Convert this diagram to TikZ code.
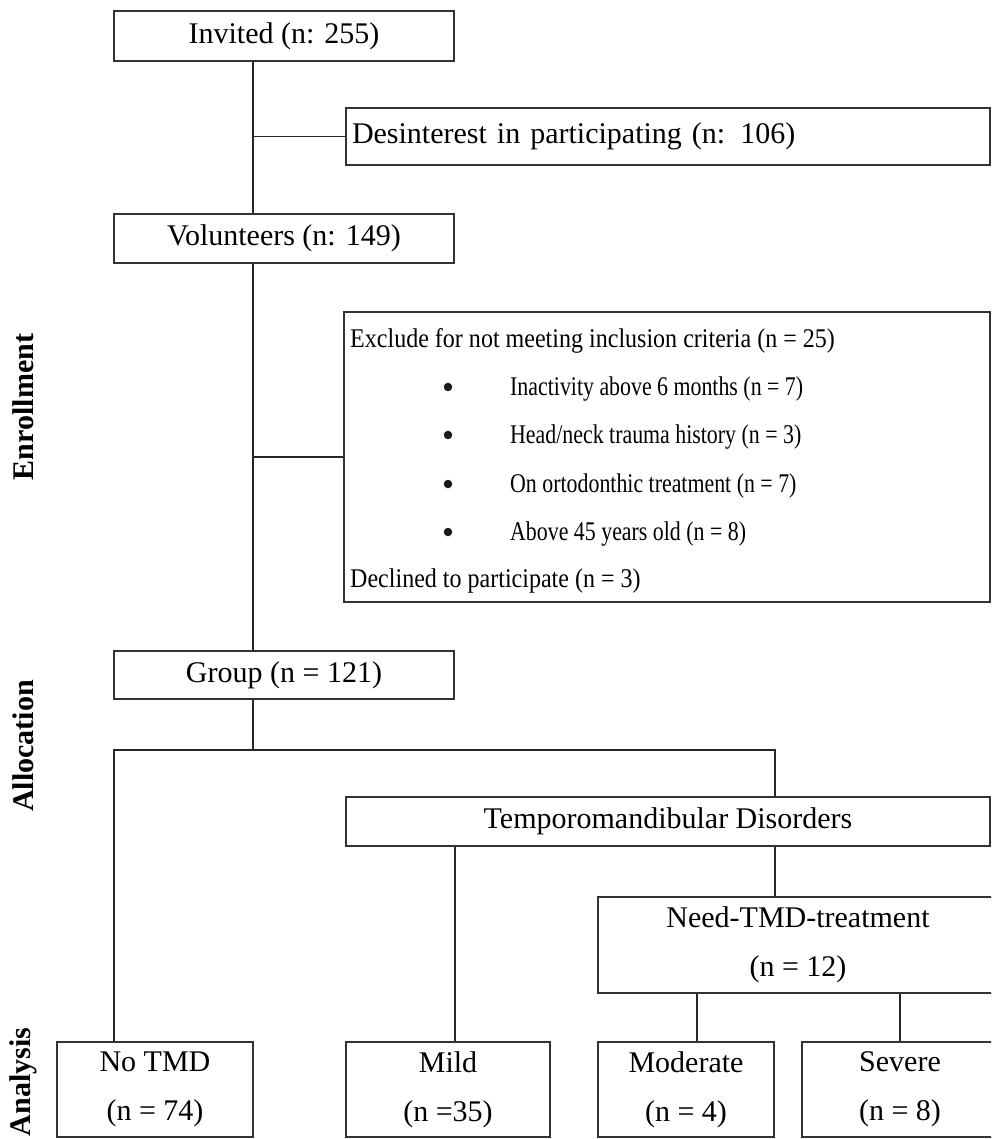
\documentclass[tikz,border=0pt]{standalone}
\usepackage{fontspec}
\setmainfont{Liberation Serif}
\newfontfamily\condA[FakeStretch=0.89]{Liberation Serif}
\newfontfamily\condB[FakeStretch=0.81]{Liberation Serif}
\begin{document}
\begin{tikzpicture}[x=1pt,y=-1pt,
  box/.style={draw=black!80, line width=1.5pt, rectangle, inner sep=0pt, anchor=center,
    font=\fontsize{30}{49}\selectfont, align=center},
  conn/.style={draw=black!85, line width=1.4pt},
  side/.style={rotate=90, font=\fontsize{30}{36}\selectfont\bfseries},
  extxt/.style={anchor=base west, inner sep=0pt, font=\fontsize{27}{32}\selectfont\condA},
  bultxt/.style={anchor=base west, inner sep=0pt, font=\fontsize{27}{32}\selectfont\condB},
  bul/.style={circle, fill=black!90, inner sep=0pt, minimum size=8.5pt}]
\useasboundingbox (0,0) rectangle (991,1139);
\clip (0,0) rectangle (991,1139);
\fill[white] (0,0) rectangle (991,1139);

% coordinates for connector columns
\coordinate (trunk) at (253,750);
\coordinate (lft) at (114,750);
\coordinate (rgt) at (775,750);
\coordinate (mildx) at (455,0);
\coordinate (modx) at (697,0);

% boxes
\node[box, minimum width=340pt, minimum height=50pt] (inv) at (284,36) {Invited (n: 255)};
\node[box, minimum width=644pt, minimum height=57pt, text width=632pt, align=left] (des) at (668,136.5) {Desinterest in participating (n: 106)};
\node[box, minimum width=340pt, minimum height=49pt] (vol) at (284,238.5) {Volunteers (n: 149)};
\node[box, minimum width=646pt, minimum height=290pt] (exc) at (667,457) {};
\node[box, minimum width=340pt, minimum height=48pt] (grp) at (284,675) {Group (n = 121)};
\node[box, minimum width=644pt, minimum height=49pt] (tmd) at (668,821.5) {Temporomandibular Disorders};
\node[box, minimum width=400pt, minimum height=96pt] (need) at (798,945) {Need-TMD-treatment\\(n = 12)};
\node[box, minimum width=196pt, minimum height=95pt] (notmd) at (155,1089.5) {No TMD\\(n = 74)};
\node[box, minimum width=204pt, minimum height=95pt] (mild) at (448,1089.5) {Mild\\(n =35)};
\node[box, minimum width=176pt, minimum height=95pt] (mod) at (686,1089.5) {Moderate\\(n = 4)};
\node[box, minimum width=196pt, minimum height=95pt] (sev) at (900,1089.5) {Severe\\(n = 8)};

% exclusion texts
\node[extxt] (ex0) at (350,347) {Exclude for not meeting inclusion criteria (n = 25)};
\node[bul] (b1) at (448,387) {};
\node[bul] (b2) at (448,435) {};
\node[bul] (b3) at (448,484) {};
\node[bul] (b4) at (448,532) {};
\node[bultxt] (ex1) at (510,395) {Inactivity above 6 months (n = 7)};
\node[bultxt] (ex2) at (510,443) {Head/neck trauma history (n = 3)};
\node[bultxt] (ex3) at (510,492) {On ortodonthic treatment (n = 7)};
\node[bultxt] (ex4) at (510,540) {Above 45 years old (n = 8)};
\node[extxt] (ex5) at (350,587) {Declined to participate (n = 3)};

% side labels
\node[side] (enr) at (23,407) {Enrollment};
\node[side] (alc) at (23,746) {Allocation};
\node[side] (ana) at (23,1082) {Analysis};

% connectors
\draw[conn] (inv.south -| trunk) -- (vol.north -| trunk);
\draw[conn] (trunk |- des.west) -- (des.west);
\draw[conn] (vol.south -| trunk) -- (grp.north -| trunk);
\draw[conn] (trunk |- exc.west) -- (exc.west);
\draw[conn] (grp.south -| trunk) -- (trunk);
\draw[conn] (notmd.north -| lft) -- (lft) -- (rgt) -- (tmd.north -| rgt);
\draw[conn] (tmd.south -| mildx) -- (mild.north -| mildx);
\draw[conn] (tmd.south -| rgt) -- (need.north -| rgt);
\draw[conn] (need.south -| modx) -- (mod.north -| modx);
\draw[conn] (need.south -| sev.north) -- (sev.north);
\end{tikzpicture}
\end{document}
